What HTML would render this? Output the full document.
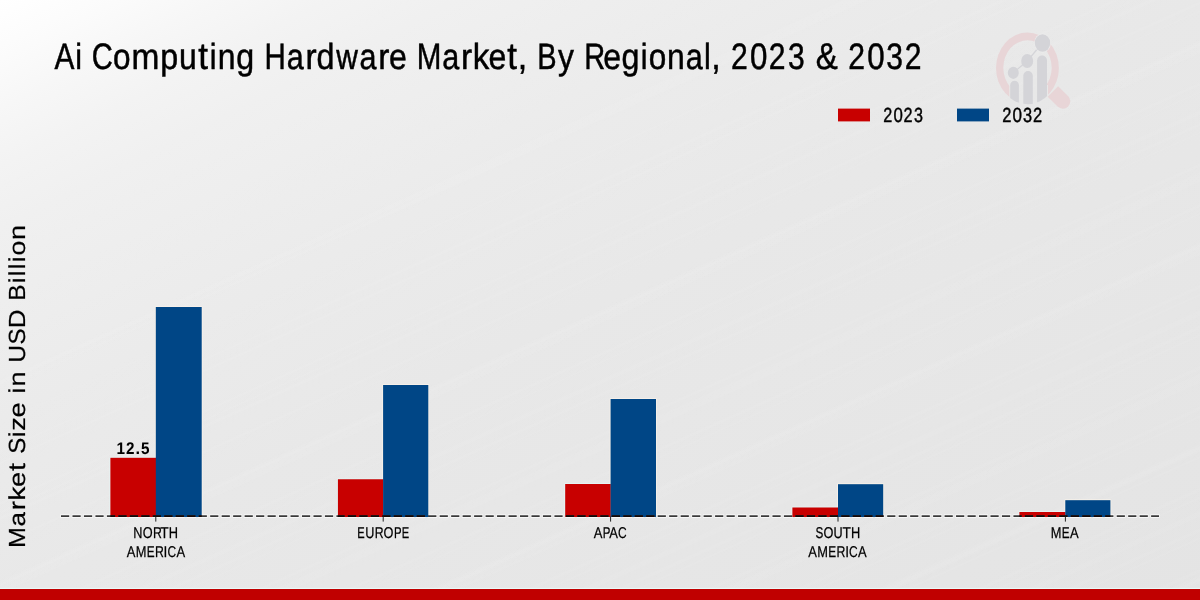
<!DOCTYPE html>
<html>
<head>
<meta charset="utf-8">
<title>Ai Computing Hardware Market, By Regional, 2023 &amp; 2032</title>
<style>
  html, body { margin: 0; padding: 0; }
  body { width: 1200px; height: 600px; overflow: hidden; background: #e8e8e8; font-family: "Liberation Sans", sans-serif; }
  svg { display: block; position: absolute; left: 0; top: 0; will-change: transform; }
  text { font-family: "Liberation Sans", sans-serif; fill: #000; text-rendering: geometricPrecision; }
</style>
</head>
<body>
<svg width="1200" height="600" viewBox="0 0 1200 600">
  <defs>
    <linearGradient id="bg" gradientUnits="userSpaceOnUse" x1="0" y1="0" x2="480" y2="960">
      <stop offset="0" stop-color="#ffffff"/>
      <stop offset="0.05" stop-color="#fbfbfb"/>
      <stop offset="0.09" stop-color="#f7f7f7"/>
      <stop offset="0.1375" stop-color="#f3f3f3"/>
      <stop offset="0.19" stop-color="#f0f0f0"/>
      <stop offset="0.25" stop-color="#eeeeee"/>
      <stop offset="0.35" stop-color="#ebebeb"/>
      <stop offset="0.5" stop-color="#e8e8e8"/>
      <stop offset="0.75" stop-color="#e6e6e6"/>
      <stop offset="1" stop-color="#e4e4e4"/>
    </linearGradient>
    <linearGradient id="st1" gradientUnits="userSpaceOnUse" x1="0" y1="0" x2="15.2" y2="33.7" spreadMethod="repeat">
      <stop offset="0" stop-color="#fff" stop-opacity="0"/>
      <stop offset="0.30" stop-color="#fff" stop-opacity="0"/>
      <stop offset="0.42" stop-color="#fff" stop-opacity="0.06"/>
      <stop offset="0.50" stop-color="#fff" stop-opacity="0.01"/>
      <stop offset="0.62" stop-color="#fff" stop-opacity="0.045"/>
      <stop offset="0.72" stop-color="#fff" stop-opacity="0"/>
      <stop offset="1" stop-color="#fff" stop-opacity="0"/>
    </linearGradient>
    <linearGradient id="st2" gradientUnits="userSpaceOnUse" x1="7" y1="3" x2="32" y2="58.6" spreadMethod="repeat">
      <stop offset="0" stop-color="#fff" stop-opacity="0"/>
      <stop offset="0.55" stop-color="#fff" stop-opacity="0"/>
      <stop offset="0.66" stop-color="#fff" stop-opacity="0.055"/>
      <stop offset="0.80" stop-color="#fff" stop-opacity="0"/>
      <stop offset="1" stop-color="#fff" stop-opacity="0"/>
    </linearGradient>
    <linearGradient id="stmask" gradientUnits="userSpaceOnUse" x1="0" y1="0" x2="480" y2="960">
      <stop offset="0" stop-color="#000"/>
      <stop offset="0.12" stop-color="#000"/>
      <stop offset="0.4" stop-color="#fff"/>
      <stop offset="1" stop-color="#fff"/>
    </linearGradient>
    <mask id="stm" maskUnits="userSpaceOnUse" x="0" y="0" width="1200" height="600"><rect width="1200" height="600" fill="url(#stmask)"/></mask>
    <clipPath id="barsclip"><rect x="110.4" y="457.8" width="45.6" height="59.2"/><rect x="155.8" y="307" width="45.9" height="210"/><rect x="337.9" y="479.25" width="45.4" height="37.75"/><rect x="383.1" y="385" width="45.2" height="132"/><rect x="565.2" y="484" width="45.6" height="33"/><rect x="610.6" y="399" width="45.4" height="118"/><rect x="792.4" y="507.5" width="45.8" height="9.5"/><rect x="838" y="484.2" width="45.2" height="32.8"/><rect x="1019.4" y="512" width="46.1" height="5"/><rect x="1065.3" y="500.2" width="45.1" height="16.8"/></clipPath>
    <clipPath id="lens"><ellipse cx="1027.45" cy="68" rx="31.45" ry="36.2"/></clipPath>
    <clipPath id="ringcut"><path clip-rule="evenodd" d="M900,0H1200V200H900Z M1009.3,85H1048V110H1009.3Z"/></clipPath>
  </defs>
  <rect x="0" y="0" width="1200" height="600" fill="url(#bg)"/>
  <g mask="url(#stm)">
    <rect x="0" y="0" width="1200" height="589" fill="url(#st1)"/>
    <rect x="0" y="0" width="1200" height="589" fill="url(#st2)"/>
  </g>

  <!-- watermark logo -->
  <g id="logo">
    <path clip-path="url(#ringcut)" fill="#e8d5d7" fill-rule="evenodd"
      d="M996,68 a31.45,35.4 0 1 0 62.9,0 a31.45,35.4 0 1 0 -62.9,0 Z M1003.3,67.8 a24.2,27.5 0 1 1 48.4,0 a24.2,27.5 0 1 1 -48.4,0 Z"/>
    <g transform="translate(1052.9,91.5) rotate(44.5)">
      <path d="M0,-7.45 H13.9 A7.45,7.45 0 0 1 13.9,7.45 H0 Z" fill="#e8d5d7"/>
    </g>
    <g fill="#d4d4d8" stroke="none">
      <g clip-path="url(#lens)">
        <rect x="1010.2" y="80.8" width="8.7" height="40" rx="4.35"/>
        <rect x="1023.3" y="71" width="9.5" height="40" rx="4.7"/>
        <rect x="1037.1" y="55.5" width="9.9" height="60" rx="4.9"/>
      </g>
      <polyline points="1013.3,72.8 1027.2,61 1042.5,43" fill="none" stroke="#d4d4d8" stroke-width="1.3"/>
      <ellipse cx="1013.3" cy="72.8" rx="5.5" ry="6.1"/>
      <ellipse cx="1027.2" cy="61" rx="6" ry="7"/>
      <ellipse cx="1042.5" cy="43" rx="8.3" ry="9.4" fill="#ececec"/>
      <ellipse cx="1042.5" cy="43" rx="7.7" ry="8.8"/>
    </g>
  </g>

  <!-- title -->
  <g id="title" stroke="#000" stroke-width="0.5">
    <text y="69"><tspan x="54.43" font-size="36.77" textLength="19.91" lengthAdjust="spacingAndGlyphs">A</tspan><tspan x="75.24" font-size="36.38" textLength="6.78" lengthAdjust="spacingAndGlyphs">i</tspan> <tspan x="91.8" font-size="36.88" textLength="21.03" lengthAdjust="spacingAndGlyphs">C</tspan><tspan x="113.11" font-size="36.12" textLength="17.53" lengthAdjust="spacingAndGlyphs">o</tspan><tspan x="131.48" font-size="36.12" textLength="27.89" lengthAdjust="spacingAndGlyphs">m</tspan><tspan x="160.37" font-size="36.15" textLength="17.94" lengthAdjust="spacingAndGlyphs">p</tspan><tspan x="178.99" font-size="36.78" textLength="17.78" lengthAdjust="spacingAndGlyphs">u</tspan><tspan x="198.19" font-size="37.69" textLength="9.71" lengthAdjust="spacingAndGlyphs">t</tspan><tspan x="209.67" font-size="36.38" textLength="6.78" lengthAdjust="spacingAndGlyphs">i</tspan><tspan x="217.72" font-size="36.12" textLength="17.78" lengthAdjust="spacingAndGlyphs">n</tspan><tspan x="236.19" font-size="36.22" textLength="17.92" lengthAdjust="spacingAndGlyphs">g</tspan> <tspan x="264.59" font-size="36.77" textLength="21.31" lengthAdjust="spacingAndGlyphs">H</tspan><tspan x="286.86" font-size="36.12" textLength="17.01" lengthAdjust="spacingAndGlyphs">a</tspan><tspan x="305.56" font-size="36.12" textLength="11.15" lengthAdjust="spacingAndGlyphs">r</tspan><tspan x="316.39" font-size="36.38" textLength="17.92" lengthAdjust="spacingAndGlyphs">d</tspan><tspan x="336.2" font-size="35.92" textLength="21.64" lengthAdjust="spacingAndGlyphs">w</tspan><tspan x="359.6" font-size="36.12" textLength="17.01" lengthAdjust="spacingAndGlyphs">a</tspan><tspan x="378.3" font-size="36.12" textLength="11.15" lengthAdjust="spacingAndGlyphs">r</tspan><tspan x="388.98" font-size="36.12" textLength="17.81" lengthAdjust="spacingAndGlyphs">e</tspan> <tspan x="416.8" font-size="36.77" textLength="24.63" lengthAdjust="spacingAndGlyphs">M</tspan><tspan x="442.35" font-size="36.12" textLength="17.01" lengthAdjust="spacingAndGlyphs">a</tspan><tspan x="461.05" font-size="36.12" textLength="11.15" lengthAdjust="spacingAndGlyphs">r</tspan><tspan x="472.64" font-size="36.38" textLength="16.56" lengthAdjust="spacingAndGlyphs">k</tspan><tspan x="488.42" font-size="36.12" textLength="17.81" lengthAdjust="spacingAndGlyphs">e</tspan><tspan x="507.24" font-size="37.69" textLength="9.71" lengthAdjust="spacingAndGlyphs">t</tspan><tspan x="517.65" font-size="36.77" textLength="9.47" lengthAdjust="spacingAndGlyphs">,</tspan> <tspan x="537.23" font-size="36.77" textLength="19.36" lengthAdjust="spacingAndGlyphs">B</tspan><tspan x="557.88" font-size="35.92" textLength="15.92" lengthAdjust="spacingAndGlyphs">y</tspan> <tspan x="584.31" font-size="36.77" textLength="20.96" lengthAdjust="spacingAndGlyphs">R</tspan><tspan x="603.35" font-size="36.12" textLength="17.81" lengthAdjust="spacingAndGlyphs">e</tspan><tspan x="621.58" font-size="36.22" textLength="17.92" lengthAdjust="spacingAndGlyphs">g</tspan><tspan x="640.85" font-size="36.38" textLength="6.78" lengthAdjust="spacingAndGlyphs">i</tspan><tspan x="648.64" font-size="36.12" textLength="17.53" lengthAdjust="spacingAndGlyphs">o</tspan><tspan x="667.01" font-size="36.12" textLength="17.78" lengthAdjust="spacingAndGlyphs">n</tspan><tspan x="685.68" font-size="36.12" textLength="17.01" lengthAdjust="spacingAndGlyphs">a</tspan><tspan x="704.08" font-size="36.38" textLength="6.78" lengthAdjust="spacingAndGlyphs">l</tspan><tspan x="711.25" font-size="36.77" textLength="9.47" lengthAdjust="spacingAndGlyphs">,</tspan> <tspan x="731.03" font-size="36.88" textLength="16.75" lengthAdjust="spacingAndGlyphs">2</tspan><tspan x="749.93" font-size="36.88" textLength="17.39" lengthAdjust="spacingAndGlyphs">0</tspan><tspan x="768.7" font-size="36.88" textLength="16.75" lengthAdjust="spacingAndGlyphs">2</tspan><tspan x="787.98" font-size="36.88" textLength="16.7" lengthAdjust="spacingAndGlyphs">3</tspan> <tspan x="815.81" font-size="37.22" textLength="22" lengthAdjust="spacingAndGlyphs">&amp;</tspan> <tspan x="848.25" font-size="36.88" textLength="16.75" lengthAdjust="spacingAndGlyphs">2</tspan><tspan x="867.15" font-size="36.88" textLength="17.39" lengthAdjust="spacingAndGlyphs">0</tspan><tspan x="886.36" font-size="36.88" textLength="16.7" lengthAdjust="spacingAndGlyphs">3</tspan><tspan x="904.74" font-size="36.88" textLength="16.75" lengthAdjust="spacingAndGlyphs">2</tspan></text>
  </g>

  <!-- legend -->
  <rect x="838" y="108.6" width="32" height="12.8" fill="#c80000"/>
  <rect x="957" y="108.6" width="32" height="12.8" fill="#004686"/>
  <g id="legendtext" stroke="#000" stroke-width="0.45">
    <text y="121.5"><tspan x="883.28" font-size="20.51" textLength="9.01" lengthAdjust="spacingAndGlyphs">2</tspan><tspan x="893.45" font-size="20.51" textLength="9.35" lengthAdjust="spacingAndGlyphs">0</tspan><tspan x="903.55" font-size="20.51" textLength="9.01" lengthAdjust="spacingAndGlyphs">2</tspan><tspan x="913.92" font-size="20.51" textLength="8.99" lengthAdjust="spacingAndGlyphs">3</tspan></text>
    <text y="121.5"><tspan x="1002.27" font-size="20.51" textLength="9.14" lengthAdjust="spacingAndGlyphs">2</tspan><tspan x="1012.58" font-size="20.51" textLength="9.48" lengthAdjust="spacingAndGlyphs">0</tspan><tspan x="1023.06" font-size="20.51" textLength="9.11" lengthAdjust="spacingAndGlyphs">3</tspan><tspan x="1033.09" font-size="20.51" textLength="9.14" lengthAdjust="spacingAndGlyphs">2</tspan></text>
  </g>

  <!-- bars -->
  <line x1="60.4" y1="516.15" x2="1159.6" y2="516.15" stroke="#fafafa" stroke-opacity="0.85" stroke-width="3.7" stroke-dasharray="9.4 2.075"/>
  <g id="bars">
    <path d="M109.95,515.5 V457.35 H155.35" fill="none" stroke="#e4f4f4" stroke-width="0.9"/>
    <path d="M155.35,457.35 V306.55 H202.15 V515.5" fill="none" stroke="#f7f0e9" stroke-width="0.9"/>
    <rect x="110.4" y="457.8" width="45.6" height="59.2" fill="#c80000"/>
    <rect x="155.8" y="307" width="45.9" height="210" fill="#004686"/>
    <path d="M337.45,515.5 V478.8 H382.65" fill="none" stroke="#e4f4f4" stroke-width="0.9"/>
    <path d="M382.65,478.8 V384.55 H428.75 V515.5" fill="none" stroke="#f7f0e9" stroke-width="0.9"/>
    <rect x="337.9" y="479.25" width="45.4" height="37.75" fill="#c80000"/>
    <rect x="383.1" y="385" width="45.2" height="132" fill="#004686"/>
    <path d="M564.75,515.5 V483.55 H610.15" fill="none" stroke="#e4f4f4" stroke-width="0.9"/>
    <path d="M610.15,483.55 V398.55 H656.45 V515.5" fill="none" stroke="#f7f0e9" stroke-width="0.9"/>
    <rect x="565.2" y="484" width="45.6" height="33" fill="#c80000"/>
    <rect x="610.6" y="399" width="45.4" height="118" fill="#004686"/>
    <path d="M791.95,515.5 V507.05 H837.55" fill="none" stroke="#e4f4f4" stroke-width="0.9"/>
    <path d="M837.55,507.05 V483.75 H883.65 V515.5" fill="none" stroke="#f7f0e9" stroke-width="0.9"/>
    <rect x="792.4" y="507.5" width="45.8" height="9.5" fill="#c80000"/>
    <rect x="838" y="484.2" width="45.2" height="32.8" fill="#004686"/>
    <path d="M1018.95,515.5 V511.55 H1064.85" fill="none" stroke="#e4f4f4" stroke-width="0.9"/>
    <path d="M1064.85,511.55 V499.75 H1110.85 V515.5" fill="none" stroke="#f7f0e9" stroke-width="0.9"/>
    <rect x="1019.4" y="512" width="46.1" height="5" fill="#c80000"/>
    <rect x="1065.3" y="500.2" width="45.1" height="16.8" fill="#004686"/>
  </g>

  <!-- axis -->
  <line x1="61" y1="516.15" x2="1159" y2="516.15" stroke="#3a3a3a" stroke-width="1.7" stroke-dasharray="8.2 3.275"/>
  <line clip-path="url(#barsclip)" x1="61" y1="516.1" x2="1159" y2="516.1" stroke="#140808" stroke-width="1.9" stroke-dasharray="8.2 3.275"/>
  <g stroke="#222" stroke-width="1">
    <line x1="155.8" y1="516.5" x2="155.8" y2="521.6"/>
    <line x1="383.2" y1="516.5" x2="383.2" y2="521.6"/>
    <line x1="610.6" y1="516.5" x2="610.6" y2="521.6"/>
    <line x1="838"   y1="516.5" x2="838"   y2="521.6"/>
    <line x1="1065.4" y1="516.5" x2="1065.4" y2="521.6"/>
  </g>

  <!-- value label -->
  <g id="val" font-weight="bold">
    <text y="453.9"><tspan x="116.44" font-size="16.85" textLength="8.51" lengthAdjust="spacingAndGlyphs">1</tspan><tspan x="126.03" font-size="16.9" textLength="8.48" lengthAdjust="spacingAndGlyphs">2</tspan><tspan x="135.43" font-size="16.85" textLength="4.59" lengthAdjust="spacingAndGlyphs">.</tspan><tspan x="140.94" font-size="16.85" textLength="8.49" lengthAdjust="spacingAndGlyphs">5</tspan></text>
  </g>

  <!-- x labels -->
  <g id="xlabels" stroke="#000" stroke-width="0.25">
    <text y="538.05"><tspan x="133.19" font-size="15.63" textLength="9.18" lengthAdjust="spacingAndGlyphs">N</tspan><tspan x="142.71" font-size="15.68" textLength="9.9" lengthAdjust="spacingAndGlyphs">O</tspan><tspan x="152.96" font-size="15.63" textLength="8.89" lengthAdjust="spacingAndGlyphs">R</tspan><tspan x="160.34" font-size="15.63" textLength="8.39" lengthAdjust="spacingAndGlyphs">T</tspan><tspan x="168.66" font-size="15.63" textLength="9.26" lengthAdjust="spacingAndGlyphs">H</tspan></text>
    <text y="557.15"><tspan x="126.72" font-size="15.63" textLength="8.65" lengthAdjust="spacingAndGlyphs">A</tspan><tspan x="135.64" font-size="15.63" textLength="10.7" lengthAdjust="spacingAndGlyphs">M</tspan><tspan x="146.65" font-size="15.63" textLength="7.88" lengthAdjust="spacingAndGlyphs">E</tspan><tspan x="154.9" font-size="15.63" textLength="8.89" lengthAdjust="spacingAndGlyphs">R</tspan><tspan x="163.58" font-size="15.63" textLength="3.8" lengthAdjust="spacingAndGlyphs">I</tspan><tspan x="167.49" font-size="15.68" textLength="8.63" lengthAdjust="spacingAndGlyphs">C</tspan><tspan x="176.43" font-size="15.63" textLength="8.65" lengthAdjust="spacingAndGlyphs">A</tspan></text>
    <text y="538.05"><tspan x="357.34" font-size="15.63" textLength="7.44" lengthAdjust="spacingAndGlyphs">E</tspan><tspan x="365.26" font-size="15.63" textLength="9.13" lengthAdjust="spacingAndGlyphs">U</tspan><tspan x="374.78" font-size="15.63" textLength="8.89" lengthAdjust="spacingAndGlyphs">R</tspan><tspan x="383.58" font-size="15.68" textLength="9.9" lengthAdjust="spacingAndGlyphs">O</tspan><tspan x="393.91" font-size="15.63" textLength="7.6" lengthAdjust="spacingAndGlyphs">P</tspan><tspan x="401.68" font-size="15.63" textLength="7.44" lengthAdjust="spacingAndGlyphs">E</tspan></text>
    <text y="538.05"><tspan x="593.69" font-size="15.63" textLength="8.65" lengthAdjust="spacingAndGlyphs">A</tspan><tspan x="602.72" font-size="15.63" textLength="7.63" lengthAdjust="spacingAndGlyphs">P</tspan><tspan x="609.32" font-size="15.63" textLength="8.65" lengthAdjust="spacingAndGlyphs">A</tspan><tspan x="617.9" font-size="15.68" textLength="8.63" lengthAdjust="spacingAndGlyphs">C</tspan></text>
    <text y="538.05"><tspan x="815.4" font-size="15.68" textLength="7.81" lengthAdjust="spacingAndGlyphs">S</tspan><tspan x="823.43" font-size="15.68" textLength="9.9" lengthAdjust="spacingAndGlyphs">O</tspan><tspan x="833.57" font-size="15.63" textLength="9.13" lengthAdjust="spacingAndGlyphs">U</tspan><tspan x="842.59" font-size="15.63" textLength="8.37" lengthAdjust="spacingAndGlyphs">T</tspan><tspan x="850.9" font-size="15.63" textLength="9.26" lengthAdjust="spacingAndGlyphs">H</tspan></text>
    <text y="557.15"><tspan x="808.27" font-size="15.63" textLength="8.65" lengthAdjust="spacingAndGlyphs">A</tspan><tspan x="817.19" font-size="15.63" textLength="10.7" lengthAdjust="spacingAndGlyphs">M</tspan><tspan x="828.2" font-size="15.63" textLength="7.88" lengthAdjust="spacingAndGlyphs">E</tspan><tspan x="836.45" font-size="15.63" textLength="8.89" lengthAdjust="spacingAndGlyphs">R</tspan><tspan x="845.13" font-size="15.63" textLength="3.8" lengthAdjust="spacingAndGlyphs">I</tspan><tspan x="849.04" font-size="15.68" textLength="8.63" lengthAdjust="spacingAndGlyphs">C</tspan><tspan x="857.98" font-size="15.63" textLength="8.65" lengthAdjust="spacingAndGlyphs">A</tspan></text>
    <text y="538.05"><tspan x="1050.87" font-size="15.63" textLength="10.7" lengthAdjust="spacingAndGlyphs">M</tspan><tspan x="1061.87" font-size="15.63" textLength="7.88" lengthAdjust="spacingAndGlyphs">E</tspan><tspan x="1069.96" font-size="15.63" textLength="8.65" lengthAdjust="spacingAndGlyphs">A</tspan></text>
  </g>

  <!-- y label -->
  <g id="ylabel" transform="translate(24.9,546) rotate(-90)" stroke="#000" stroke-width="0.2">
    <text y="0"><tspan x="-2.14" font-size="23.31" textLength="20.94" lengthAdjust="spacingAndGlyphs">M</tspan><tspan x="19.62" font-size="22.9" textLength="14.45" lengthAdjust="spacingAndGlyphs">a</tspan><tspan x="35.7" font-size="22.9" textLength="9.21" lengthAdjust="spacingAndGlyphs">r</tspan><tspan x="45.51" font-size="23.07" textLength="13.93" lengthAdjust="spacingAndGlyphs">k</tspan><tspan x="58.97" font-size="22.9" textLength="15.15" lengthAdjust="spacingAndGlyphs">e</tspan><tspan x="75.1" font-size="23.89" textLength="8.02" lengthAdjust="spacingAndGlyphs">t</tspan> <tspan x="92.26" font-size="23.38" textLength="16.05" lengthAdjust="spacingAndGlyphs">S</tspan><tspan x="108.81" font-size="23.07" textLength="5.73" lengthAdjust="spacingAndGlyphs">i</tspan><tspan x="115.15" font-size="22.77" textLength="13.51" lengthAdjust="spacingAndGlyphs">z</tspan><tspan x="128.63" font-size="22.9" textLength="15.15" lengthAdjust="spacingAndGlyphs">e</tspan> <tspan x="152.58" font-size="23.07" textLength="5.73" lengthAdjust="spacingAndGlyphs">i</tspan><tspan x="159.42" font-size="22.9" textLength="15.12" lengthAdjust="spacingAndGlyphs">n</tspan> <tspan x="183.21" font-size="23.31" textLength="17.9" lengthAdjust="spacingAndGlyphs">U</tspan><tspan x="201.5" font-size="23.38" textLength="16.05" lengthAdjust="spacingAndGlyphs">S</tspan><tspan x="217.73" font-size="23.31" textLength="18.84" lengthAdjust="spacingAndGlyphs">D</tspan> <tspan x="245.3" font-size="23.31" textLength="16.34" lengthAdjust="spacingAndGlyphs">B</tspan><tspan x="262.78" font-size="23.07" textLength="5.73" lengthAdjust="spacingAndGlyphs">i</tspan><tspan x="269.78" font-size="23.07" textLength="5.73" lengthAdjust="spacingAndGlyphs">l</tspan><tspan x="276.78" font-size="23.07" textLength="5.73" lengthAdjust="spacingAndGlyphs">l</tspan><tspan x="283.8" font-size="23.07" textLength="5.73" lengthAdjust="spacingAndGlyphs">i</tspan><tspan x="290.42" font-size="22.9" textLength="14.91" lengthAdjust="spacingAndGlyphs">o</tspan><tspan x="306.07" font-size="22.9" textLength="15.12" lengthAdjust="spacingAndGlyphs">n</tspan></text>
  </g>

  <!-- bottom stripe -->
  <rect x="0" y="587.9" width="1200" height="1.2" fill="#e9f8f8"/>
  <rect x="0" y="589" width="1200" height="11" fill="#c00000"/>
</svg>
</body>
</html>
